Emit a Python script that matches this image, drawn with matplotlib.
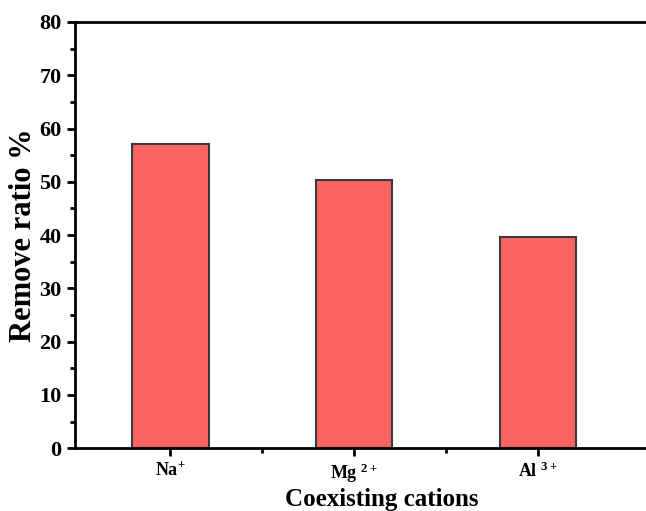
import matplotlib.pyplot as plt
from matplotlib.ticker import MultipleLocator, FixedLocator

cations = [r'$\mathregular{Na^{+}}$', r'$\mathregular{Mg^{\ 2+}}$', r'$\mathregular{Al^{\ 3+}}$']
remove_ratio = [57.1, 50.3, 39.6]

plt.rcParams['font.family'] = 'Liberation Serif'
plt.rcParams['font.weight'] = 'bold'
plt.rcParams['mathtext.fontset'] = 'custom'
plt.rcParams['mathtext.rm'] = 'Liberation Serif:bold'
plt.rcParams['mathtext.default'] = 'regular'

fig = plt.figure(figsize=(6.46, 5.11), dpi=100)
ax = fig.add_axes([0.116, 0.123, 0.95, 0.834])

x = list(range(len(cations)))
ax.bar(x, remove_ratio, width=0.415, color='#FF6464', edgecolor='#3a3a3a', linewidth=1.5)

ax.set_xlim(-0.52, 2.82)
ax.set_ylim(0, 80)
ax.set_xticks(x)
ax.set_xticklabels(cations, fontsize=13, fontweight='bold')
ax.xaxis.set_minor_locator(FixedLocator([0.5, 1.5]))
ax.yaxis.set_major_locator(MultipleLocator(10))
ax.yaxis.set_minor_locator(MultipleLocator(5))
for lab in ax.get_yticklabels():
    lab.set_fontsize(16)
    lab.set_fontweight('bold')

ax.tick_params(which='major', direction='out', length=6, width=2)
ax.tick_params(which='minor', direction='out', length=3.5, width=2)
for s in ['left', 'bottom', 'top']:
    ax.spines[s].set_linewidth(2)
ax.spines['right'].set_visible(False)

ax.set_xlabel('Coexisting cations', fontsize=18, fontweight='bold', labelpad=2)
ax.set_ylabel('Remove ratio %', fontsize=22, fontweight='bold', labelpad=1)

fig.savefig('out.png', dpi=100)
